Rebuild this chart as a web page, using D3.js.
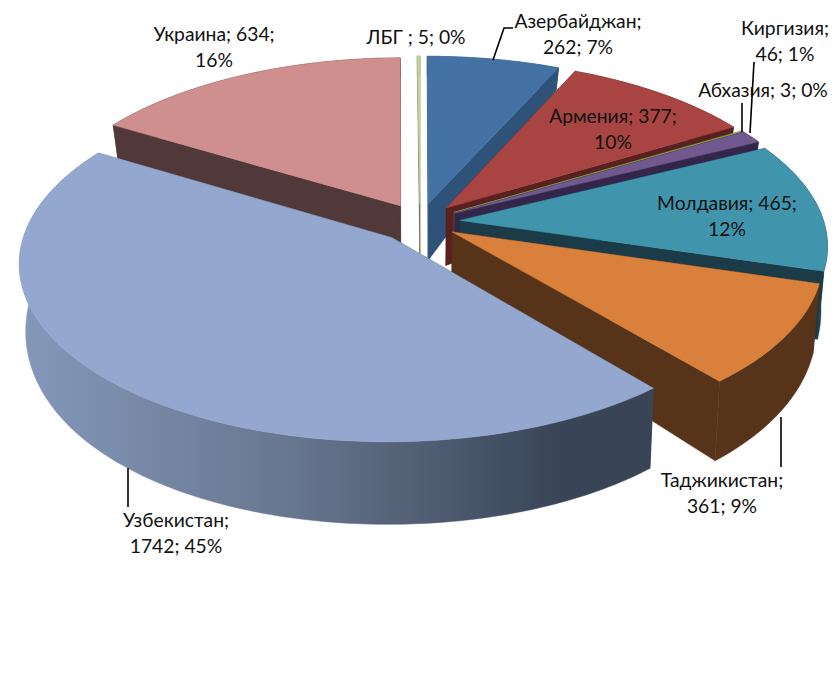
<!DOCTYPE html>
<html><head><meta charset="utf-8">
<script src="https://cdnjs.cloudflare.com/ajax/libs/d3/7.8.5/d3.min.js"></script>
<style>html,body{margin:0;background:#fff}svg{display:block}text{font-family:Lato,"Open Sans",sans-serif;font-size:19.3px;fill:#111}</style>
</head><body><svg id="c" width="837" height="679"></svg>
<script>
const categories=["Азербайджан","Армения","Абхазия","Киргизия","Молдавия","Таджикистан","Узбекистан","Украина","ЛБГ "];
const values=[262,377,3,46,465,361,1742,634,5];
const percents=[7,10,0,1,12,9,45,16,0];
const topColors=["#4472a4","#a84442","#8aa84a","#71588f","#4095ad","#d9803c","#93a7cf","#ce8f8e","#c3d69b"];
const wallColors=["#2f5378","#5a1f1f","#4d5e2a","#33264a","#1a3b47","#573319","url(#uzWall)","#523939","#6b7a50"];
const labelLines=[["Азербайджан;","262; 7%"],["Армения; 377;","10%"],["Абхазия; 3; 0%"],["Киргизия;","46; 1%"],["Молдавия; 465;","12%"],["Таджикистан;","361; 9%"],["Узбекистан;","1742; 45%"],["Украина; 634;","16%"],["ЛБГ ; 5; 0%"]];
const labelCenters=[[578,28],[613,123],[763,97],[785,35],[727,210],[722,487],[176,527],[214,41],[416,44]];
const leaders=[[[493,60],[504,28],[513,28]],null,[[742,132],[742,103]],[[750,133],[754,62]],null,[[781,417],[781,467]],[[128,468],[128,507]],null,null];
const drawOrder=[7,8,0,1,2,3,4,5,6];
const explodeBy=[.11,.11,.11,.11,.11,.105,.118,.11,.11];

const view={cx:420,cy:222,a:364,b:172,k:.135,a2:358,kx2:.137,b2:203,ky2:.08,dy:60};
const top3=(u,v)=>[view.cx+view.a*u/(1-view.k*v),view.cy+view.b*v/(1-view.k*v)];
const bot3=(u,v)=>[view.cx+view.a2*u/(1-view.kx2*v),view.cy+view.dy+view.b2*v/(1-view.ky2*v)];

const svg=d3.select("#c");
const grad=svg.append("defs").append("linearGradient").attr("id","uzWall").attr("gradientUnits","userSpaceOnUse")
  .attr("x1",28).attr("x2",560).attr("y1",0).attr("y2",0);
grad.append("stop").attr("offset",0).attr("stop-color","#8497b9");
grad.append("stop").attr("offset",.5).attr("stop-color","#67768f");
grad.append("stop").attr("offset",1).attr("stop-color","#394456");

const arcs=d3.pie().sort(null).startAngle(0).endAngle(2*Math.PI)(values);
const line=d3.line();
const dir=t=>[Math.sin(t),-Math.cos(t)];
const g=svg.append("g");
drawOrder.forEach(i=>{
  const d=arcs[i],mid=(d.startAngle+d.endAngle)/2,[ex,ey]=dir(mid);
  const ox=ex*explodeBy[i],oy=ey*explodeBy[i];
  const n=Math.max(2,Math.ceil((d.endAngle-d.startAngle)*60));
  const ts=d3.range(n+1).map(j=>d.startAngle+(d.endAngle-d.startAngle)*j/n);
  const pts=ts.map(t=>{const[x,y]=dir(t);return[ox+x,oy+y]});
  const rimT=pts.map(p=>top3(p[0],p[1])),rimB=pts.map(p=>bot3(p[0],p[1]));
  const aT=top3(ox,oy),aB=bot3(ox,oy);
  const wall=wallColors[i];
  const add=(poly,fill)=>g.append("path").attr("d",line(poly)+"Z").attr("fill",fill).attr("stroke",fill).attr("stroke-width",.5).attr("stroke-linejoin","round");
  add([aT,rimT[0],rimB[0],aB],wall);
  add([aT,rimT[n],rimB[n],aB],wall);
  add(rimT.concat(rimB.slice().reverse()),wall);
  add([aT].concat(rimT),topColors[i]);
});
const lead=svg.append("g").attr("fill","none").attr("stroke","#000").attr("stroke-width",1.6);
leaders.forEach(l=>{if(l)lead.append("path").attr("d",line(l))});
const lab=svg.append("g").attr("text-anchor","middle");
labelLines.forEach((ls,i)=>{
  const[x,y]=labelCenters[i];
  ls.forEach((s,j)=>lab.append("text").attr("x",x).attr("y",y+j*25.5).text(s));
});
</script></body></html>
